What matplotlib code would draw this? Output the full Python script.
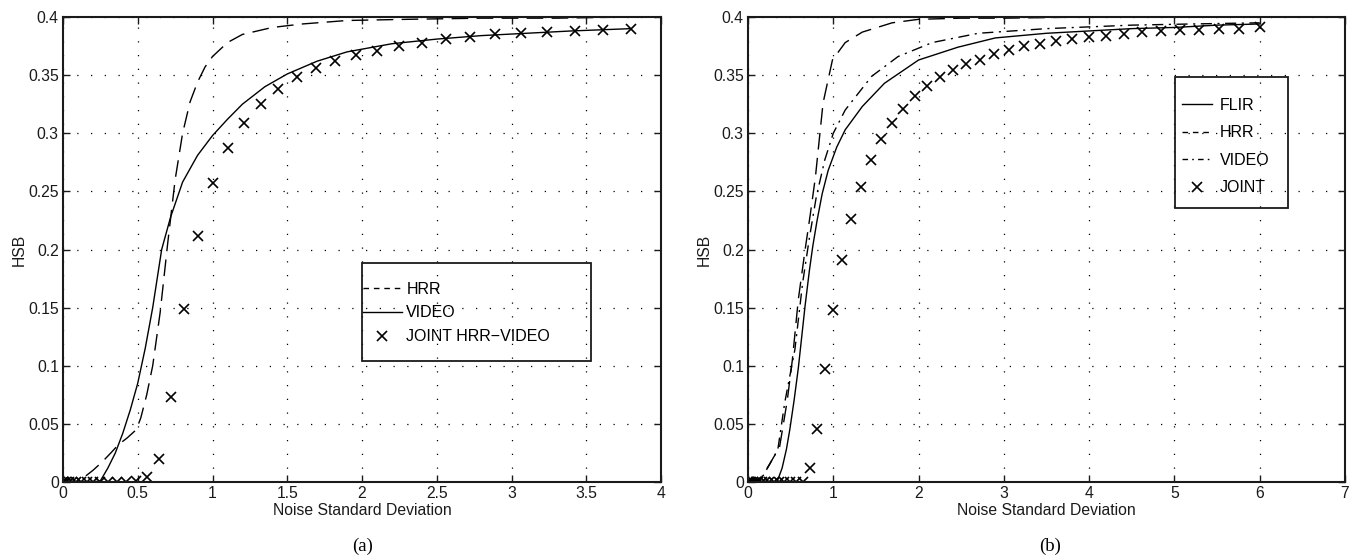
import matplotlib
matplotlib.use("Agg")
import matplotlib.pyplot as plt
from matplotlib.patches import Rectangle
from matplotlib.lines import Line2D

plt.rcParams['font.family'] = ['Liberation Sans', 'DejaVu Sans']

# ---------------- DATA ----------------
# panel (a)
joint_a_x = [0, 0.0025, 0.01, 0.0225, 0.04, 0.0625, 0.09, 0.1225, 0.16, 0.2025,
             0.25, 0.3025, 0.36, 0.4225, 0.49, 0.5625, 0.64, 0.7225, 0.81, 0.9025,
             1.0, 1.1025, 1.21, 1.3225, 1.44, 1.5625, 1.69, 1.8225, 1.96, 2.1025,
             2.25, 2.4025, 2.56, 2.7225, 2.89, 3.0625, 3.24, 3.4225, 3.61, 3.8025]
joint_a_y = [0, 0, 0, 0, 0, 0, 0, 0, 0, 0,
             0, 0, 0, 0, 0.001, 0.004, 0.020, 0.073, 0.149, 0.212,
             0.257, 0.287, 0.309, 0.325, 0.338, 0.348, 0.356, 0.362, 0.367, 0.371,
             0.375, 0.378, 0.381, 0.383, 0.385, 0.386, 0.387, 0.388, 0.389, 0.390]

hrr_a_x = [0, 0.1, 0.2, 0.26, 0.32, 0.37, 0.43, 0.49, 0.52, 0.56, 0.6, 0.65, 0.7,
           0.75, 0.8, 0.85, 0.9, 0.95, 1.0, 1.1, 1.2, 1.4, 1.6, 1.9, 2.3, 2.8, 3.3, 3.8]
hrr_a_y = [0, 0.0, 0.010, 0.017, 0.025, 0.032, 0.038, 0.045, 0.055, 0.075, 0.100,
           0.146, 0.205, 0.260, 0.300, 0.327, 0.344, 0.357, 0.366, 0.378, 0.385,
           0.391, 0.394, 0.397, 0.398, 0.399, 0.399, 0.400]

video_a_x = [0, 0.1, 0.2, 0.25, 0.3, 0.35, 0.4, 0.45, 0.5, 0.55, 0.6, 0.66, 0.72,
             0.8, 0.9, 1.0, 1.1, 1.2, 1.35, 1.5, 1.7, 1.9, 2.2, 2.5, 2.8, 3.1, 3.4, 3.8]
video_a_y = [0, 0, 0, 0.001, 0.012, 0.025, 0.042, 0.062, 0.085, 0.115, 0.150, 0.200,
             0.228, 0.258, 0.281, 0.298, 0.312, 0.325, 0.340, 0.351, 0.362, 0.370,
             0.377, 0.381, 0.384, 0.386, 0.388, 0.390]

# panel (b)
joint_b_x = [0, 0.0025, 0.01, 0.0225, 0.04, 0.0625, 0.09, 0.1225, 0.16, 0.2025,
             0.25, 0.3025, 0.36, 0.4225, 0.49, 0.5625, 0.64, 0.7225, 0.81, 0.9025,
             1.0, 1.1025, 1.21, 1.3225, 1.44, 1.5625, 1.69, 1.8225, 1.96, 2.1025,
             2.25, 2.4025, 2.56, 2.7225, 2.89, 3.0625, 3.24, 3.4225, 3.61, 3.8025,
             4.0, 4.2025, 4.41, 4.6225, 4.84, 5.0625, 5.29, 5.5225, 5.76, 6.0025]
joint_b_y = [0, 0, 0, 0, 0, 0, 0, 0, 0, 0,
             0, 0, 0, 0, 0, 0, 0, 0.012, 0.046, 0.097,
             0.148, 0.191, 0.226, 0.254, 0.277, 0.295, 0.309, 0.321, 0.332, 0.341,
             0.348, 0.354, 0.360, 0.363, 0.368, 0.372, 0.375, 0.377, 0.379, 0.381,
             0.383, 0.384, 0.385, 0.387, 0.388, 0.389, 0.389, 0.390, 0.390, 0.391]

flir_b_x = [0, 0.2, 0.34, 0.4, 0.45, 0.49, 0.54, 0.59, 0.63, 0.67, 0.72, 0.76, 0.81,
            0.87, 0.94, 1.04, 1.14, 1.34, 1.6, 2.0, 2.46, 2.9, 3.5, 4.0, 4.5, 5.0, 5.5, 6.0]
flir_b_y = [0, 0, 0.0, 0.012, 0.028, 0.045, 0.070, 0.098, 0.125, 0.152, 0.182, 0.203,
            0.225, 0.248, 0.268, 0.288, 0.303, 0.323, 0.343, 0.363, 0.374, 0.382,
            0.386, 0.388, 0.390, 0.391, 0.393, 0.394]

hrr_b_x = [0, 0.15, 0.25, 0.37, 0.46, 0.52, 0.59, 0.67, 0.73, 0.79, 0.88, 0.99,
           1.14, 1.34, 1.69, 2.0, 2.5, 3.0, 4.0, 5.0, 6.0]
hrr_b_y = [0, 0.003, 0.015, 0.030, 0.070, 0.105, 0.157, 0.200, 0.230, 0.262, 0.326,
           0.363, 0.378, 0.387, 0.395, 0.398, 0.399, 0.399, 0.400, 0.400, 0.400]

video_b_x = [0, 0.15, 0.26, 0.35, 0.43, 0.55, 0.64, 0.72, 0.8, 0.9, 1.0, 1.14, 1.45,
             1.76, 2.16, 2.7, 3.5, 4.5, 5.2, 6.0]
video_b_y = [0, 0.002, 0.016, 0.028, 0.068, 0.114, 0.171, 0.210, 0.245, 0.277, 0.300,
             0.320, 0.349, 0.366, 0.378, 0.386, 0.390, 0.393, 0.394, 0.395]

yticks = [0, 0.05, 0.1, 0.15, 0.2, 0.25, 0.3, 0.35, 0.4]
ytick_labels = ['0', '0.05', '0.1', '0.15', '0.2', '0.25', '0.3', '0.35', '0.4']
xticks_a = [0, 0.5, 1, 1.5, 2, 2.5, 3, 3.5, 4]
xtick_labels_a = ['0', '0.5', '1', '1.5', '2', '2.5', '3', '3.5', '4']
xticks_b = [0, 1, 2, 3, 4, 5, 6, 7]
xtick_labels_b = ['0', '1', '2', '3', '4', '5', '6', '7']

labels_a = ['HRR', 'VIDEO', 'JOINT HRR\u2212VIDEO']
labels_b = ['FLIR', 'HRR', 'VIDEO', 'JOINT']
captions = ['(a)', '(b)']
xlabel = 'Noise Standard Deviation'
ylabel = 'HSB'

# ---------------- STYLE ----------------
W, H = 1359, 557
fig = plt.figure(figsize=(W / 100, H / 100), dpi=100)
FS = 11.3
LFS = 11.5
DASH = (0, (12, 6))
DASHDOT = (0, (8, 4, 1.5, 4))
LDASH = (0, (4, 3.5))
LDASHDOT = (0, (4, 3, 1.2, 3))
LW = 1.0
INK = '#1a1a1a'


def setup(ax, xt, xtl, xmax):
    ax.set_xlim(0, xmax)
    ax.set_ylim(0, 0.4)
    ax.set_xticks(xt)
    ax.set_xticklabels(xtl)
    ax.set_yticks(yticks)
    ax.set_yticklabels(ytick_labels)
    ax.tick_params(direction='in', length=5, width=1, top=True, right=True,
                   labelsize=FS, pad=3, colors=INK)
    for s in ax.spines.values():
        s.set_linewidth(1.5)
        s.set_color(INK)
    ax.grid(True, linestyle=(0, (1, 10)), color='black', linewidth=0.9)
    ax.set_xlabel(xlabel, fontsize=FS, labelpad=1, color=INK)
    ax.set_ylabel(ylabel, fontsize=FS, labelpad=1, color=INK)


ax1 = fig.add_axes([63 / W, 1 - 482 / H, 598 / W, 465 / H])
ax2 = fig.add_axes([748 / W, 1 - 482 / H, 597 / W, 465 / H])

mk = dict(color='black', linestyle='none', marker='x', markersize=6.5,
          markeredgewidth=1.2)

# panel (a)
ax1.plot(hrr_a_x, hrr_a_y, color='black', lw=LW, linestyle=DASH)
ax1.plot(video_a_x, video_a_y, color='black', lw=LW, linestyle='-')
ax1.plot(joint_a_x, joint_a_y, **mk)
setup(ax1, xticks_a, xtick_labels_a, 4)

h_a = [Line2D([], [], color='black', lw=LW, linestyle=LDASH),
       Line2D([], [], color='black', lw=LW, linestyle='-'),
       Line2D([], [], **mk)]
ax1.legend(h_a, labels_a, loc='upper left',
           bbox_to_anchor=(0.502, 0.431), bbox_transform=ax1.transAxes,
           frameon=False, fontsize=LFS, borderpad=0, borderaxespad=0,
           handlelength=2.4, handletextpad=0.3, labelspacing=0.55)
ax1.add_patch(Rectangle((0.5, 0.260), 0.383, 0.211, transform=ax1.transAxes,
                        fill=False, edgecolor=INK, linewidth=1.3, zorder=5))

# panel (b)
ax2.plot(flir_b_x, flir_b_y, color='black', lw=LW, linestyle='-')
ax2.plot(hrr_b_x, hrr_b_y, color='black', lw=LW, linestyle=DASH)
ax2.plot(video_b_x, video_b_y, color='black', lw=LW, linestyle=DASHDOT)
ax2.plot(joint_b_x, joint_b_y, **mk)
setup(ax2, xticks_b, xtick_labels_b, 7)

h_b = [Line2D([], [], color='black', lw=LW, linestyle='-'),
       Line2D([], [], color='black', lw=LW, linestyle=LDASH),
       Line2D([], [], color='black', lw=LW, linestyle=LDASHDOT),
       Line2D([], [], **mk)]
ax2.legend(h_b, labels_b, loc='upper left',
           bbox_to_anchor=(0.727, 0.826), bbox_transform=ax2.transAxes,
           frameon=False, fontsize=LFS, borderpad=0, borderaxespad=0,
           handlelength=1.9, handletextpad=0.45, labelspacing=0.78)
ax2.add_patch(Rectangle((0.715, 0.589), 0.190, 0.282, transform=ax2.transAxes,
                        fill=False, edgecolor=INK, linewidth=1.3, zorder=5))

# captions
fig.text(363 / W, 1 - 546 / H, captions[0], ha='center', va='center',
         fontsize=13.5, family=['Liberation Serif', 'DejaVu Serif'])
fig.text(1050 / W, 1 - 546 / H, captions[1], ha='center', va='center',
         fontsize=13.5, family=['Liberation Serif', 'DejaVu Serif'])

fig.savefig('out.png', dpi=100, facecolor='white')
